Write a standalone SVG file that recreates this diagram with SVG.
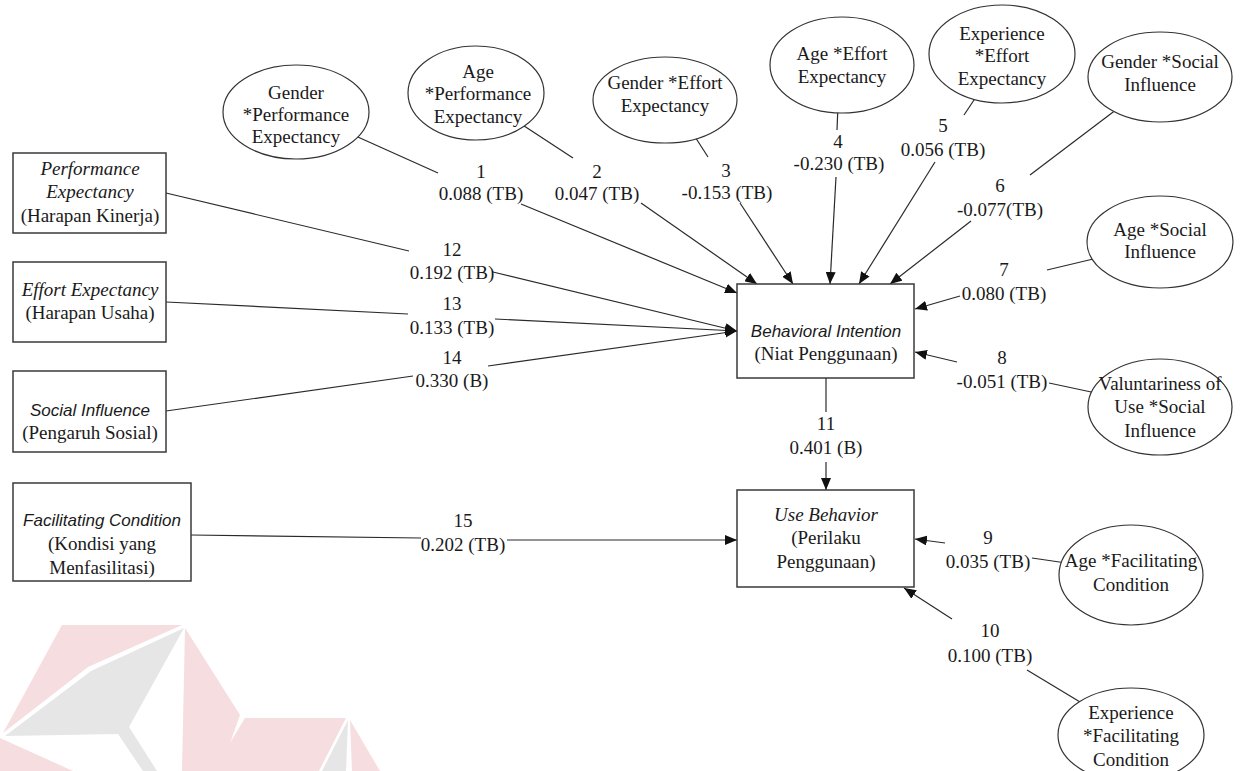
<svg xmlns="http://www.w3.org/2000/svg" width="1245" height="771" viewBox="0 0 1245 771">
  <style>
    text { text-anchor: middle; fill: #1a1a1a; }
    .t { font-family: 'Liberation Serif', 'DejaVu Serif', serif; font-size: 19px; }
    .ti { font-family: 'Liberation Serif', 'DejaVu Serif', serif; font-size: 19px; font-style: italic; }
    .si { font-family: 'Liberation Sans', Arial, sans-serif; font-size: 17px; font-style: italic; }
    .box { fill: #ffffff; stroke: #3a3a3a; stroke-width: 1.5; }
    .ell { fill: #ffffff; stroke: #333333; stroke-width: 1.2; }
    .ln { fill: none; stroke: #2a2a2a; stroke-width: 1.2; }
    .arr { marker-end: url(#head); }
    .wm-pink { fill: #f5dde0; }
    .wm-gray { fill: #e6e6e6; }
  </style>
  <defs>
    <marker id="head" markerUnits="userSpaceOnUse" markerWidth="12" markerHeight="10" refX="12" refY="5" orient="auto">
      <path d="M0,0 L12,5 L0,10 z" fill="#111111"/>
    </marker>
  </defs>

  <rect x="0" y="0" width="1245" height="771" fill="#ffffff"/>

  <!-- faint logo watermark, bottom left -->
  <g id="watermark">
    <polygon class="wm-pink" points="62,625 182,625 88,667 3,733"/>
    <polygon class="wm-gray" points="184,628 91,671 5,736 118,734 143,771 157,771 129,727"/>
    <polygon class="wm-pink" points="185,628 240,715 220,771 182,771"/>
    <polygon class="wm-pink" points="0,738 73,771 0,771"/>
    <polygon class="wm-pink" points="245,718 346,718 319,771 213,771"/>
    <polygon class="wm-gray" points="348,720 322,771 346,771"/>
    <polygon class="wm-pink" points="350,720 380,771 352,771"/>
  </g>

  <!-- paths, each broken where its coefficient label sits -->
  <g id="connectors">
    <line class="ln" x1="340" y1="129" x2="438" y2="173"/>
    <line class="ln arr" x1="521" y1="204" x2="737" y2="293"/>
    <line class="ln" x1="515" y1="120" x2="573" y2="158"/>
    <line class="ln arr" x1="641" y1="203" x2="757" y2="284"/>
    <line class="ln" x1="690" y1="129" x2="708" y2="157"/>
    <line class="ln arr" x1="740" y1="203" x2="793" y2="284"/>
    <line class="ln" x1="838" y1="105" x2="837" y2="130"/>
    <line class="ln arr" x1="836" y1="177" x2="830" y2="284"/>
    <line class="ln" x1="980" y1="91" x2="964" y2="115"/>
    <line class="ln arr" x1="935" y1="162" x2="859" y2="284"/>
    <line class="ln" x1="1125" y1="103" x2="1030" y2="175"/>
    <line class="ln arr" x1="971" y1="221" x2="890" y2="284"/>
    <line class="ln" x1="1110" y1="255" x2="1047" y2="270"/>
    <line class="ln arr" x1="960" y1="296" x2="915" y2="309"/>
    <line class="ln" x1="1110" y1="396" x2="1049" y2="383"/>
    <line class="ln arr" x1="957" y1="362" x2="915" y2="352"/>
    <line class="ln" x1="1080" y1="565" x2="1032" y2="558"/>
    <line class="ln arr" x1="945" y1="543" x2="915" y2="539"/>
    <line class="ln" x1="1095" y1="711" x2="1027" y2="670"/>
    <line class="ln arr" x1="952" y1="619" x2="904" y2="588"/>
    <line class="ln" x1="826" y1="378" x2="826" y2="412"/>
    <line class="ln arr" x1="826" y1="462" x2="826" y2="490"/>
    <line class="ln" x1="166" y1="193" x2="409" y2="251"/>
    <line class="ln arr" x1="493" y1="272" x2="737" y2="331"/>
    <line class="ln" x1="166" y1="302" x2="408" y2="314"/>
    <line class="ln arr" x1="495" y1="319" x2="737" y2="331"/>
    <line class="ln" x1="166" y1="411" x2="413" y2="376"/>
    <line class="ln arr" x1="488" y1="366" x2="737" y2="331"/>
    <line class="ln" x1="191" y1="535" x2="421" y2="538"/>
    <line class="ln arr" x1="507" y1="540" x2="737" y2="540"/>
  </g>

  <!-- path coefficients -->
  <g id="labels">
    <text class="t" x="481" y="178">1</text><text class="t" x="481" y="200">0.088 (TB)</text>
    <text class="t" x="597" y="178">2</text><text class="t" x="597" y="200">0.047 (TB)</text>
    <text class="t" x="726" y="177">3</text><text class="t" x="727" y="199">-0.153 (TB)</text>
    <text class="t" x="838" y="148">4</text><text class="t" x="839" y="170">-0.230 (TB)</text>
    <text class="t" x="943" y="132">5</text><text class="t" x="943" y="156">0.056 (TB)</text>
    <text class="t" x="1000" y="192">6</text><text class="t" x="1000" y="216">-0.077(TB)</text>
    <text class="t" x="1004" y="276">7</text><text class="t" x="1004" y="300">0.080 (TB)</text>
    <text class="t" x="1002" y="364">8</text><text class="t" x="1002" y="388">-0.051 (TB)</text>
    <text class="t" x="988" y="544">9</text><text class="t" x="988" y="568">0.035 (TB)</text>
    <text class="t" x="990" y="637">10</text><text class="t" x="990" y="662">0.100 (TB)</text>
    <text class="t" x="826" y="430">11</text><text class="t" x="826" y="454">0.401 (B)</text>
    <text class="t" x="452" y="256">12</text><text class="t" x="452" y="279">0.192 (TB)</text>
    <text class="t" x="452" y="310">13</text><text class="t" x="452" y="334">0.133 (TB)</text>
    <text class="t" x="452" y="364">14</text><text class="t" x="452" y="387">0.330 (B)</text>
    <text class="t" x="463" y="527">15</text><text class="t" x="463" y="551">0.202 (TB)</text>
  </g>

  <!-- constructs -->
  <g id="performance-expectancy">
    <rect class="box" x="13" y="153" width="153" height="80"/>
    <text class="ti" x="90" y="175">Performance</text>
    <text class="ti" x="90" y="198">Expectancy</text>
    <text class="t" x="90" y="222">(Harapan Kinerja)</text>
  </g>
  <g id="effort-expectancy">
    <rect class="box" x="13" y="262" width="153" height="80"/>
    <text class="ti" x="90" y="296">Effort Expectancy</text>
    <text class="t" x="90" y="319">(Harapan Usaha)</text>
  </g>
  <g id="social-influence">
    <rect class="box" x="13" y="371" width="153" height="81"/>
    <text class="si" x="90" y="416">Social Influence</text>
    <text class="t" x="90" y="439">(Pengaruh Sosial)</text>
  </g>
  <g id="facilitating-condition">
    <rect class="box" x="13" y="483" width="178" height="98"/>
    <text class="si" x="102" y="526">Facilitating Condition</text>
    <text class="t" x="102" y="550">(Kondisi yang</text>
    <text class="t" x="102" y="574">Menfasilitasi)</text>
  </g>
  <g id="behavioral-intention">
    <rect class="box" x="737" y="284" width="177" height="94"/>
    <text class="si" x="826" y="337">Behavioral Intention</text>
    <text class="t" x="826" y="360">(Niat Penggunaan)</text>
  </g>
  <g id="use-behavior">
    <rect class="box" x="737" y="490" width="177" height="97"/>
    <text class="ti" x="826" y="521">Use Behavior</text>
    <text class="t" x="826" y="544">(Perilaku</text>
    <text class="t" x="826" y="568">Penggunaan)</text>
  </g>

  <!-- moderating interaction terms -->
  <g id="gender-pe">
    <ellipse class="ell" cx="296" cy="112" rx="73" ry="47"/>
    <text class="t" x="296" y="99">Gender</text>
    <text class="t" x="296" y="121">*Performance</text>
    <text class="t" x="296" y="143">Expectancy</text>
  </g>
  <g id="age-pe">
    <ellipse class="ell" cx="476" cy="93" rx="68" ry="47"/>
    <text class="t" x="478" y="78">Age</text>
    <text class="t" x="478" y="100">*Performance</text>
    <text class="t" x="478" y="123">Expectancy</text>
  </g>
  <g id="gender-ee">
    <ellipse class="ell" cx="665" cy="100" rx="72" ry="43"/>
    <text class="t" x="665" y="89">Gender *Effort</text>
    <text class="t" x="665" y="112">Expectancy</text>
  </g>
  <g id="age-ee">
    <ellipse class="ell" cx="842" cy="65" rx="72" ry="48"/>
    <text class="t" x="842" y="60">Age *Effort</text>
    <text class="t" x="842" y="83">Expectancy</text>
  </g>
  <g id="experience-ee">
    <ellipse class="ell" cx="1002" cy="54" rx="73" ry="49"/>
    <text class="t" x="1002" y="40">Experience</text>
    <text class="t" x="1002" y="62">*Effort</text>
    <text class="t" x="1002" y="85">Expectancy</text>
  </g>
  <g id="gender-si">
    <ellipse class="ell" cx="1160" cy="77" rx="72" ry="45"/>
    <text class="t" x="1160" y="68">Gender *Social</text>
    <text class="t" x="1160" y="91">Influence</text>
  </g>
  <g id="age-si">
    <ellipse class="ell" cx="1160" cy="242" rx="73" ry="46"/>
    <text class="t" x="1160" y="236">Age *Social</text>
    <text class="t" x="1160" y="258">Influence</text>
  </g>
  <g id="voluntariness-si">
    <ellipse class="ell" cx="1160" cy="407" rx="72" ry="48"/>
    <text class="t" x="1160" y="390">Valuntariness of</text>
    <text class="t" x="1160" y="413">Use *Social</text>
    <text class="t" x="1160" y="437">Influence</text>
  </g>
  <g id="age-fc">
    <ellipse class="ell" cx="1131" cy="575" rx="72" ry="50"/>
    <text class="t" x="1131" y="567">Age *Facilitating</text>
    <text class="t" x="1131" y="591">Condition</text>
  </g>
  <g id="experience-fc">
    <ellipse class="ell" cx="1131" cy="735" rx="73" ry="47"/>
    <text class="t" x="1131" y="719">Experience</text>
    <text class="t" x="1131" y="742">*Facilitating</text>
    <text class="t" x="1131" y="766">Condition</text>
  </g>
</svg>
